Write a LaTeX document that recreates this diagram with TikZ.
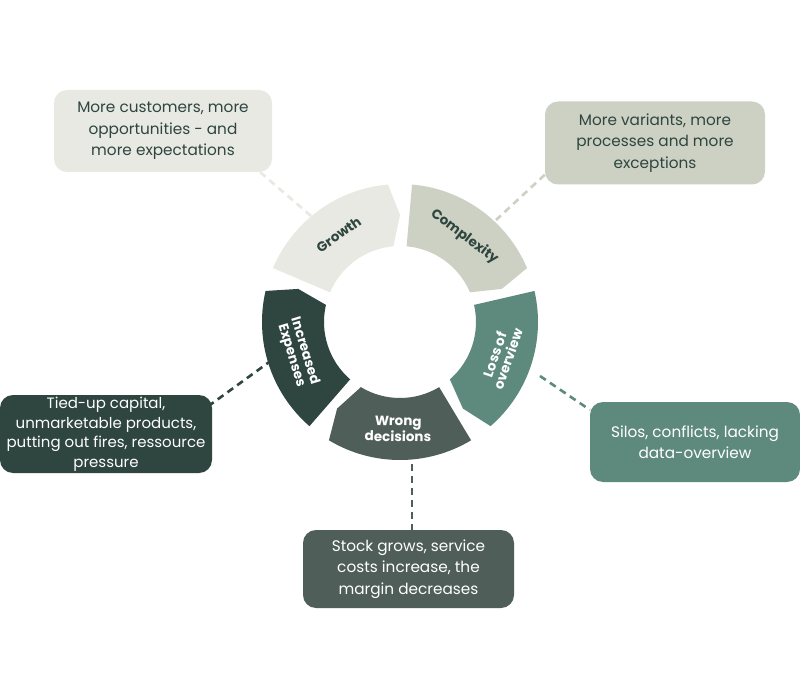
\documentclass[tikz,border=0pt]{standalone}
\usepackage{fontspec}
\setmainfont{Poppins}
\begin{document}
\begin{tikzpicture}[x=1pt,y=1pt,
  box/.style={rounded corners=13pt,align=center,font=\fontsize{15.3}{21.5}\selectfont,inner sep=0pt},
  lbl/.style={align=center,font=\bfseries\fontsize{13.5}{14}\selectfont},
  dashln/.style={line width=2.6pt,dash pattern=on 7pt off 5pt}]
\definecolor{cA}{HTML}{E8E9E3}
\definecolor{cB}{HTML}{CDD1C3}
\definecolor{cC}{HTML}{5E8A7E}
\definecolor{cD}{HTML}{4F5E59}
\definecolor{cE}{HTML}{2E4540}
\useasboundingbox[fill=white] (0,0) rectangle (800,-700);
\newcommand{\seg}[2]{\fill[#2] (#1+32:138pt) arc[start angle=#1+32,end angle=#1-30,radius=138pt] -- (#1-35:107pt) -- (#1-30:76pt) arc[start angle=#1-30,end angle=#1+32,radius=76pt] -- cycle;}
% boxes
\node[box,fill=cA,text=cE,minimum width=218pt,minimum height=82pt] (b1) at (163,-131) {More customers, more\\opportunities - and\\more expectations};
\node[box,fill=cB,text=cE,minimum width=220pt,minimum height=83pt] (b2) at (655,-143) {More variants, more\\processes and more\\exceptions};
\node[box,fill=cC,text=white,minimum width=210pt,minimum height=80pt] (b3) at (695,-442) {Silos, conflicts, lacking\\data-overview};
\node[box,fill=cD,text=white,minimum width=211pt,minimum height=78pt] (b4) at (408.5,-569) {Stock grows, service\\costs increase, the\\margin decreases};
\node[box,fill=cE,text=white,minimum width=212pt,minimum height=78pt,font=\fontsize{15}{19.5}\selectfont] (b5) at (106,-434) {Tied-up capital,\\unmarketable products,\\putting out fires, ressource\\pressure};
\coordinate (g) at (318,-222);
\coordinate (c) at (496,-220);
\coordinate (l) at (540,-376);
\coordinate (w) at (412,-464);
\coordinate (e) at (272,-360);
\draw[dashln,cA] ([xshift=-12]b1.south east) -- (g);
\draw[dashln,cB] ([yshift=10]b2.south west) -- (c);
\draw[dashln,cC] (l) -- ([yshift=-8]b3.north west);
\draw[dashln,cD] (w) -- (w|-b4.north);
\draw[dashln,cE] (e) -- ([xshift=-2,yshift=-10]b5.north east);
\begin{scope}[shift={(400,-322)}]
\seg{125}{cA}
\seg{53}{cB}
\seg{-19}{cC}
\seg{-91}{cD}
\seg{-163}{cE}
\node[lbl,text=cE,rotate=35] (tg) at (125:107pt) {Growth};
\node[lbl,text=cE,rotate=-37] (tc) at (53:107pt) {Complexity};
\node[lbl,text=white,rotate=71] (tl) at (-19:107pt) {Loss of\\overview};
\node[lbl,text=white,rotate=-1] (tw) at (-91:107pt) {Wrong\\decisions};
\node[lbl,text=white,rotate=-73] (te) at (-163:107pt) {Increased\\Expenses};
\end{scope}
\end{tikzpicture}
\end{document}
